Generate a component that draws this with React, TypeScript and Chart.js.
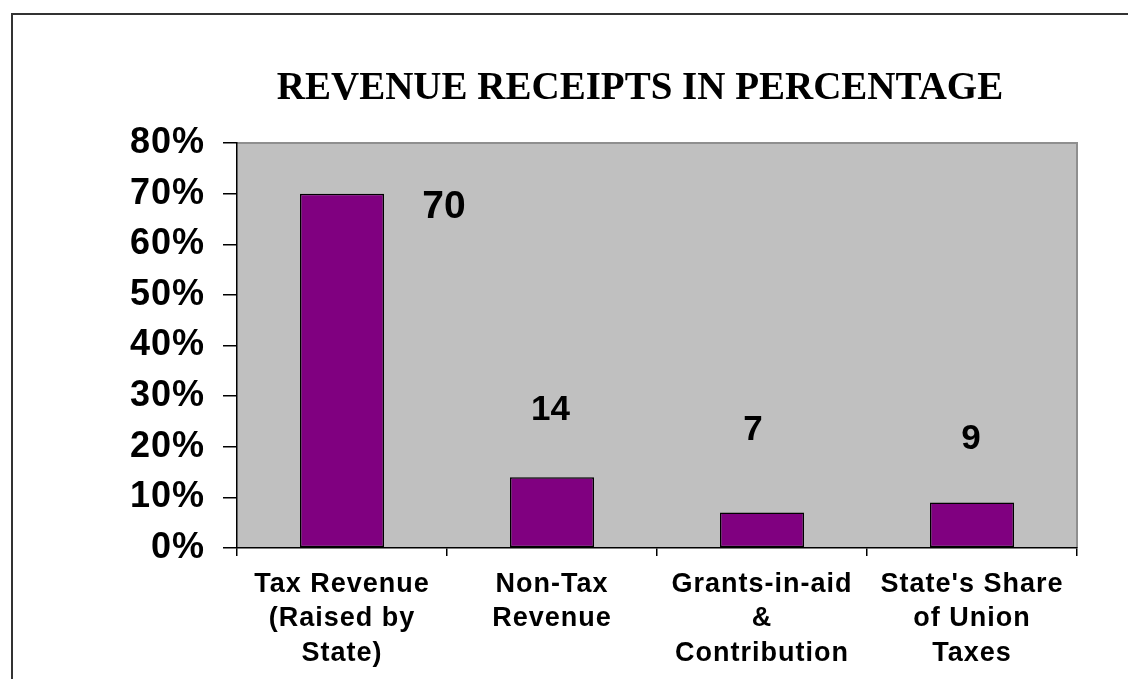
import React, { useEffect, useRef } from "react";
import { Chart, registerables } from "chart.js";

Chart.register(...registerables);

const TITLE = "REVENUE RECEIPTS IN PERCENTAGE";
const categories: string[][] = [
  ["Tax Revenue", "(Raised by", "State)"],
  ["Non-Tax", "Revenue"],
  ["Grants-in-aid", "&", "Contribution"],
  ["State's Share", "of Union", "Taxes"],
];
const values: number[] = [70, 14, 7, 9];
const valueLabels: string[] = ["70", "14", "7", "9"];
const yMin = 0;
const yMax = 80;
const yStep = 10;

// Label placement style (pixel offsets from bar top-centre, font sizes)
const labelStyle = [
  { dx: 102, dy: 14, size: 39 },
  { dx: -1.5, dy: -67, size: 35 },
  { dx: -9, dy: -82, size: 35 },
  { dx: -1, dy: -63, size: 35 },
];

const W = 1128;
const H = 679;

const decorPlugin = {
  id: "decor",
  beforeDraw(chart: any) {
    const { ctx, chartArea } = chart;
    ctx.save();
    ctx.fillStyle = "#ffffff";
    ctx.fillRect(0, 0, chart.width, chart.height);
    // outer frame
    ctx.strokeStyle = "#333333";
    ctx.lineWidth = 2;
    ctx.beginPath();
    ctx.moveTo(12, H + 5);
    ctx.lineTo(12, 14);
    ctx.lineTo(W + 5, 14);
    ctx.stroke();
    // plot area
    ctx.fillStyle = "#C0C0C0";
    ctx.fillRect(
      chartArea.left,
      chartArea.top,
      chartArea.right - chartArea.left,
      chartArea.bottom - chartArea.top
    );
    ctx.strokeStyle = "#8f8f8f";
    ctx.lineWidth = 2;
    ctx.beginPath();
    ctx.moveTo(chartArea.left, chartArea.top);
    ctx.lineTo(chartArea.right, chartArea.top);
    ctx.lineTo(chartArea.right, chartArea.bottom);
    ctx.stroke();
    // title
    ctx.letterSpacing = "0px";
    ctx.fillStyle = "#000000";
    ctx.font = "bold 39px 'Liberation Serif', 'Times New Roman', serif";
    ctx.textAlign = "center";
    ctx.textBaseline = "middle";
    ctx.fillText(TITLE, 640, 89);
    ctx.restore();
    // axis tick labels in the reference are slightly letter-spaced
    try {
      ctx.letterSpacing = "1px";
    } catch (e) {
      /* ignore */
    }
  },
  afterDatasetsDraw(chart: any) {
    const { ctx } = chart;
    const meta = chart.getDatasetMeta(0);
    ctx.save();
    ctx.letterSpacing = "0px";
    ctx.fillStyle = "#000000";
    ctx.textAlign = "center";
    ctx.textBaseline = "middle";
    meta.data.forEach((bar: any, i: number) => {
      const st = labelStyle[i];
      ctx.font = `bold ${st.size}px 'Liberation Sans', Arial, sans-serif`;
      ctx.fillText(valueLabels[i], bar.x + st.dx, bar.y + st.dy);
    });
    ctx.restore();
  },
  afterDraw(chart: any) {
    try {
      chart.ctx.letterSpacing = "0px";
    } catch (e) {
      /* ignore */
    }
  },
};

export default function App() {
  const ref = useRef<HTMLCanvasElement | null>(null);

  useEffect(() => {
    if (!ref.current) return;
    const chart = new Chart(ref.current, {
      type: "bar",
      data: {
        labels: categories,
        datasets: [
          {
            data: values,
            backgroundColor: "#800080",
            borderColor: "#000000",
            borderWidth: 1.5,
            borderSkipped: false,
            barPercentage: 0.4,
            categoryPercentage: 1,
          },
        ],
      },
      options: {
        responsive: false,
        animation: false,
        devicePixelRatio: 1,
        layout: { padding: { top: 143, right: 51, left: 0, bottom: 0 } },
        plugins: {
          legend: { display: false },
          title: { display: false },
          tooltip: { enabled: false },
        },
        scales: {
          x: {
            grid: {
              offset: true,
              drawOnChartArea: false,
              drawTicks: true,
              tickLength: 8,
              color: "#000000",
              lineWidth: 1.5,
            },
            border: { display: true, color: "#000000", width: 1.5 },
            ticks: {
              color: "#000000",
              padding: 12,
              maxRotation: 0,
              autoSkip: false,
              font: {
                family: "'Liberation Sans', Arial, sans-serif",
                size: 27,
                weight: "bold",
                lineHeight: 1.26,
              },
            },
            afterFit(scale: any) {
              scale.height = H - 548;
            },
          },
          y: {
            min: yMin,
            max: yMax,
            grid: {
              drawOnChartArea: false,
              drawTicks: true,
              tickLength: 14,
              color: "#000000",
              lineWidth: 1.5,
            },
            border: { display: true, color: "#000000", width: 1.5 },
            ticks: {
              stepSize: yStep,
              color: "#000000",
              padding: 18,
              font: {
                family: "'Liberation Sans', Arial, sans-serif",
                size: 36,
                weight: "bold",
              },
              callback: (v: any) => `${v}%`,
            },
            afterFit(scale: any) {
              scale.width = 237;
            },
          },
        },
      },
      plugins: [decorPlugin],
    });
    return () => chart.destroy();
  }, []);

  return (
    <div style={{ position: "fixed", left: 0, top: 0, width: W, height: H, background: "#fff" }}>
      <canvas ref={ref} width={W} height={H} style={{ width: W, height: H, display: "block" }} />
    </div>
  );
}
